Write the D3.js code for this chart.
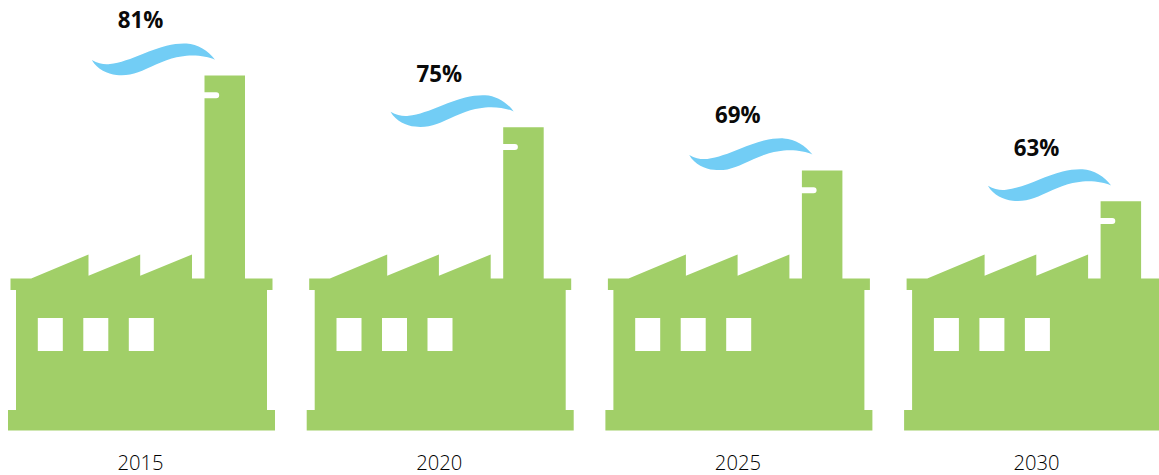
<!DOCTYPE html>
<html>
<head>
<meta charset="utf-8">
<script src="https://cdn.jsdelivr.net/npm/d3@7/dist/d3.min.js"></script>
<style>
  html, body { margin: 0; padding: 0; background: #fff; }
  svg { display: block; }
  text { font-family: "Open Sans", sans-serif; text-anchor: middle; }
</style>
</head>
<body>
<svg id="chart" width="1159" height="475"></svg>
<script>
const years = ["2015", "2020", "2025", "2030"];
const shares = [81, 75, 69, 63];
const windowSlots = [0, 1, 2];

const svg = d3.select("#chart");
const green = "#a1cf68";
const blue = "#72cdf5";
const groundY = 430.5;

// One slot per year; each factory is drawn around the centre of its slot.
const x = d3.scalePoint().domain(years).range([140.5, 1036.6]);

// Height of the chimney top for a given share.
const chimneyTop = d3.scaleLinear()
  .domain([63, 69, 75, 81])
  .range([201.3, 170.4, 127.2, 75.5]);

// Baseline of the share label above each plume.
const labelBaseline = d3.scaleLinear()
  .domain([63, 69, 75, 81])
  .range([156.3, 122.6, 81.6, 27.8]);

// Factory outline, relative to the slot centre and the chimney top.
function factoryPath(top) {
  const p = d3.path();
  p.moveTo(-132.5, groundY);
  p.lineTo(-132.5, 410);
  p.lineTo(-124.5, 410);
  p.lineTo(-124.5, 290);
  p.lineTo(-130, 290);
  p.lineTo(-130, 278.5);
  p.lineTo(-109.3, 278.5);
  p.lineTo(-52, 254.5);
  p.lineTo(-52, 275.8);
  p.lineTo(-0.3, 254.5);
  p.lineTo(-0.3, 275.8);
  p.lineTo(51.5, 254.5);
  p.lineTo(51.5, 278.5);
  p.lineTo(64, 278.5);
  p.lineTo(64, top + 22.8);
  p.lineTo(75.7, top + 22.8);
  p.arc(75.7, top + 19.8, 3, Math.PI / 2, -Math.PI / 2, true);
  p.lineTo(64, top + 16.8);
  p.lineTo(64, top);
  p.lineTo(104.5, top);
  p.lineTo(104.5, 278.5);
  p.lineTo(132, 278.5);
  p.lineTo(132, 290);
  p.lineTo(126.5, 290);
  p.lineTo(126.5, 410);
  p.lineTo(134.5, 410);
  p.lineTo(134.5, groundY);
  p.closePath();
  return p.toString();
}

// Plume drifting up and to the left of the chimney mouth.
function smokePath(top) {
  const p = d3.path();
  const y0 = top - 15.8;
  p.moveTo(-48.7, y0 + 0.3);
  p.bezierCurveTo(-42, y0 + 4, -36, y0 + 5, -30.5, y0 + 4.3);
  p.bezierCurveTo(-21, y0 + 3.2, -9, y0 - 1, 2.8, y0 - 6);
  p.bezierCurveTo(10, y0 - 9, 18, y0 - 12, 26, y0 - 14);
  p.bezierCurveTo(33, y0 - 15.7, 40, y0 - 16.5, 46, y0 - 16.2);
  p.bezierCurveTo(57, y0 - 15.7, 68, y0 - 9, 74.5, y0);
  p.bezierCurveTo(68, y0 - 3, 57, y0 - 5, 46, y0 - 4);
  p.bezierCurveTo(39, y0 - 3.3, 33, y0 - 2, 26, y0 + 0.5);
  p.bezierCurveTo(19, y0 + 3, 13, y0 + 6, 6, y0 + 9);
  p.bezierCurveTo(0, y0 + 11.7, -5, y0 + 13.8, -10.5, y0 + 14.8);
  p.bezierCurveTo(-15, y0 + 15.6, -20, y0 + 15.7, -24, y0 + 15.2);
  p.bezierCurveTo(-33, y0 + 14.3, -43, y0 + 10, -48.7, y0 + 0.3);
  p.closePath();
  return p.toString();
}

const rows = years.map((year, i) => ({ year, share: shares[i] }));

const factory = svg.selectAll("g.factory")
  .data(rows)
  .join("g")
  .attr("class", "factory")
  .attr("transform", d => `translate(${x(d.year)},0)`);

factory.append("path")
  .attr("d", d => factoryPath(chimneyTop(d.share)))
  .attr("fill", green);

factory.selectAll("rect.window")
  .data(windowSlots)
  .join("rect")
  .attr("class", "window")
  .attr("x", d => -102.7 + d * 45.5)
  .attr("y", 318)
  .attr("width", 25)
  .attr("height", 33)
  .attr("fill", "#fff");

factory.append("path")
  .attr("d", d => smokePath(chimneyTop(d.share)))
  .attr("fill", blue);

factory.append("text")
  .attr("x", 0)
  .attr("y", d => labelBaseline(d.share))
  .attr("font-size", 22.3)
  .attr("font-weight", 700)
  .attr("fill", "#0a0a0a")
  .text(d => d.share + "%");

factory.append("text")
  .attr("x", 0)
  .attr("y", 470.3)
  .attr("font-size", 20.2)
  .attr("font-weight", 300)
  .attr("fill", "#000")
  .text(d => d.year);
</script>
</body>
</html>
